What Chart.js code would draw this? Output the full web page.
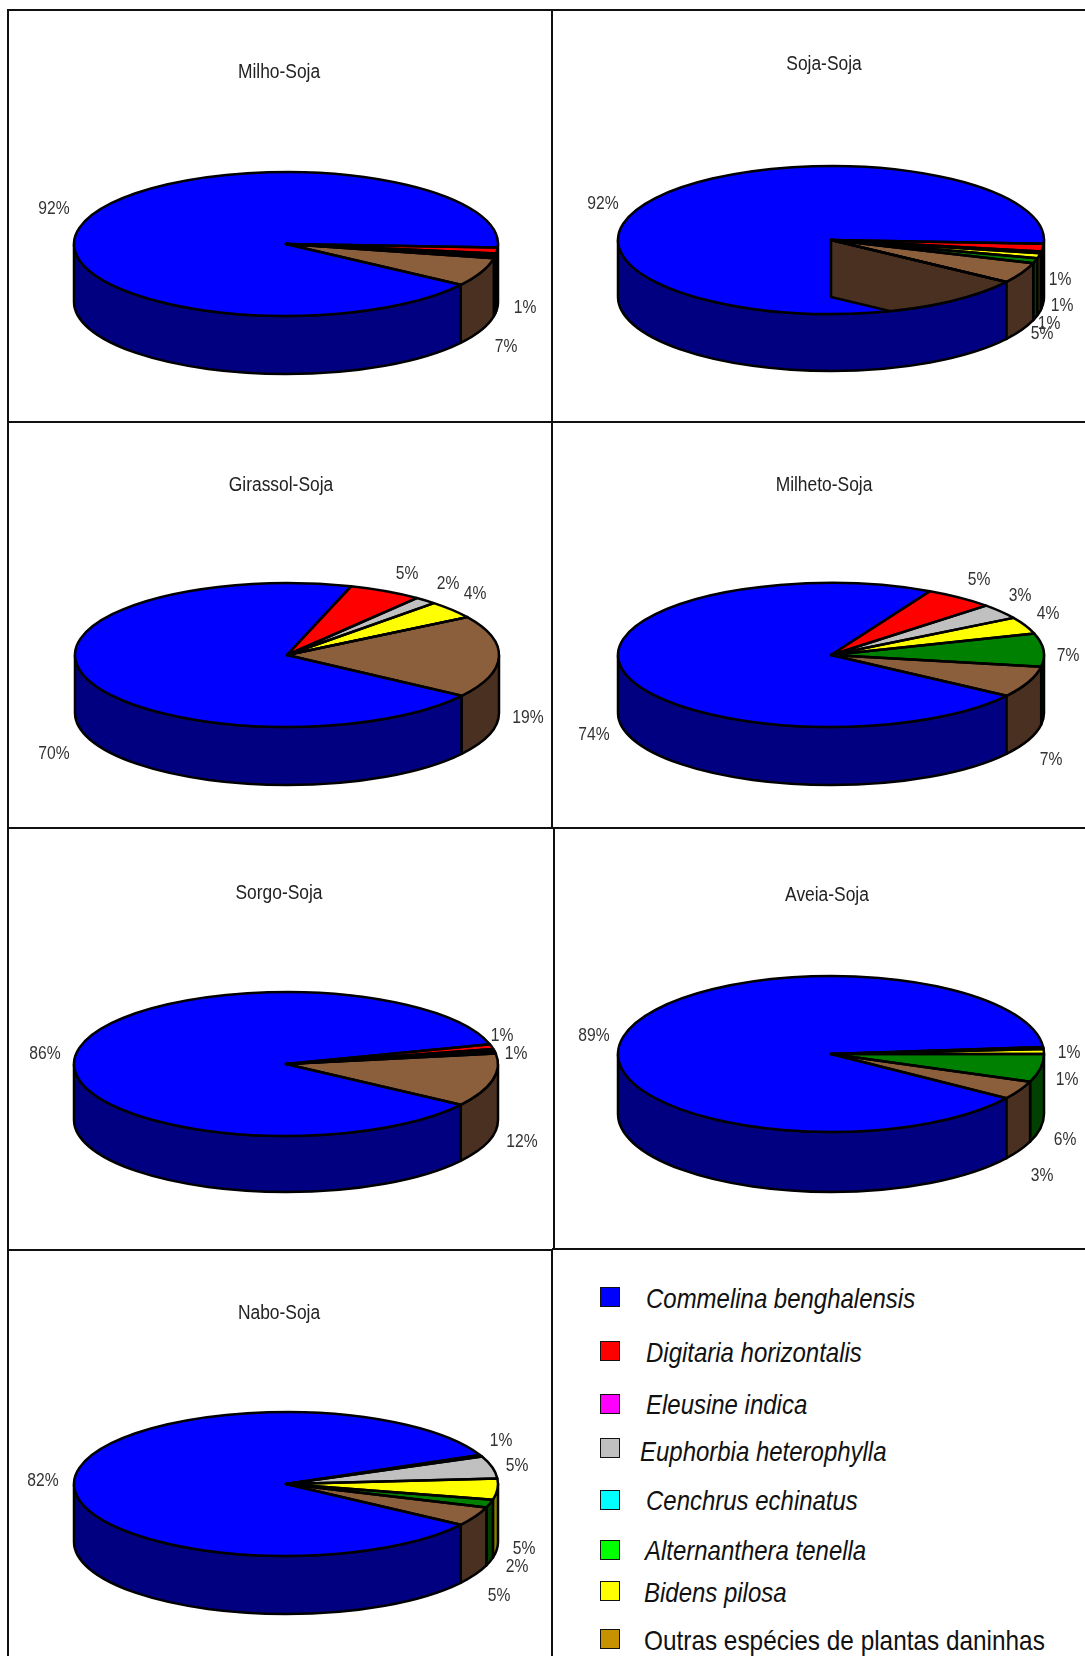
<!DOCTYPE html>
<html lang="pt">
<head>
<meta charset="utf-8">
<title>Plantas daninhas por sucessão</title>
<script src="https://cdn.jsdelivr.net/npm/chart.js@4"></script>
<style>
  html, body { margin: 0; padding: 0; background: #fff; }
  body { position: relative; width: 1085px; height: 1656px; overflow: hidden; font-family: "Liberation Sans", sans-serif; }
  .linha { position: absolute; background: #111; }
  .painel { position: absolute; }
  .quadrado { position: absolute; width: 18px; height: 18px; border: 1.5px solid #111; }
  .especie { position: absolute; font-size: 28px; line-height: 32px; color: #111; white-space: nowrap; font-style: italic; transform: scaleX(0.856); transform-origin: left center; }
  .especie.normal { font-style: normal; transform: scaleX(0.87); }
</style>
</head>
<body>
<script>
// Fatias na ordem em que aparecem nas pizzas
const fatias = ['Commelina benghalensis', 'Digitaria horizontalis', 'Euphorbia heterophylla', 'Bidens pilosa', 'Alternanthera tenella', 'Outras espécies de plantas daninhas'];
const corTopo = ['#0000FF', '#FF0000', '#C0C0C0', '#FFFF00', '#008000', '#8B5E3C'];
const corLado = ['#000080', '#800000', '#606060', '#808000', '#004000', '#4A3020'];

const titulos = ['Milho-Soja', 'Soja-Soja', 'Girassol-Soja', 'Milheto-Soja', 'Sorgo-Soja', 'Aveia-Soja', 'Nabo-Soja'];

// Valores estimados da figura (%)
const milhoSoja = [91.2, 1.3, 0.35, 0.35, 0.4, 6.4];
const sojaSoja = [91.2, 1.7, 0.4, 1.1, 1.1, 4.5];
const girassolSoja = [70.3, 5.6, 1.7, 4, 0, 18.4];
const milhetoSoja = [73.1, 5.3, 3.4, 3.8, 7.4, 7];
const sorgoSoja = [86, 1.1, 0.35, 0.35, 0.3, 11.9];
const aveiaSoja = [89, 0.2, 0.2, 1, 5.8, 3.8];
const naboSoja = [83.8, 0.4, 5, 4.7, 1.8, 4.3];
const valores = [milhoSoja, sojaSoja, girassolSoja, milhetoSoja, sorgoSoja, aveiaSoja, naboSoja];

const rotulos = [
  ['92%', '1%', '7%'],
  ['92%', '1%', '1%', '1%', '5%'],
  ['5%', '2%', '4%', '19%', '70%'],
  ['5%', '3%', '4%', '7%', '7%', '74%'],
  ['86%', '1%', '1%', '12%'],
  ['89%', '1%', '1%', '6%', '3%'],
  ['82%', '1%', '5%', '5%', '2%', '5%']
];

// Posicoes na pagina
const posRotulos = [
  [[54, 209], [525, 308], [506, 347]],
  [[603, 204], [1060, 280], [1062, 306], [1049, 324], [1042, 334]],
  [[407, 574], [448, 584], [475, 594], [528, 718], [54, 754]],
  [[979, 580], [1020, 596], [1048, 614], [1068, 656], [1051, 760], [594, 735]],
  [[45, 1054], [502, 1036], [516, 1054], [522, 1142]],
  [[594, 1036], [1069, 1053], [1067, 1080], [1065, 1140], [1042, 1176]],
  [[43, 1481], [501, 1441], [517, 1466], [524, 1549], [517, 1567], [499, 1596]]
];
const posTitulos = [[279, 72], [824, 64], [281, 485], [824, 485], [279, 893], [827, 895], [279, 1313]];
const caixas = [
  [8, 9, 544, 412], [552, 9, 533, 412],
  [8, 421, 544, 407], [552, 421, 533, 407],
  [8, 828, 544, 422], [553, 829, 532, 420],
  [8, 1250, 544, 406]
];
const centros = [[286, 244], [831, 240], [287, 655], [831, 655], [286, 1064], [831, 1054], [286, 1484]];
const raiosX = [212, 213, 212, 213, 212, 213, 212];
const raiosY = [72, 74, 72, 72, 72, 78, 72];
const alturas = [58, 57, 58, 58, 56, 60, 58];

// Legenda
const especies = ['Commelina benghalensis', 'Digitaria horizontalis', 'Eleusine indica', 'Euphorbia heterophylla', 'Cenchrus echinatus', 'Alternanthera tenella', 'Bidens pilosa', 'Outras espécies de plantas daninhas'];
const corLegenda = ['#0000FF', '#FF0000', '#FF00FF', '#C0C0C0', '#00FFFF', '#00FF00', '#FFFF00', '#C69200'];
const legendaY = [1297, 1351, 1404, 1448, 1500, 1550, 1591, 1639];
const legendaTextoX = [646, 646, 646, 640, 646, 645, 644, 644];
const legendaTextoY = [1299, 1353, 1405, 1452, 1501, 1551, 1593, 1641];

const ESTREITO = 0.87;

// Desenha a lateral da pizza antes das fatias e achata o topo
const pizza3d = {
  id: 'pizza3d',
  beforeDatasetsDraw(chart, args, opts) {
    const ctx = chart.ctx;
    const arcos = chart.getDatasetMeta(0).data;
    const a0 = arcos[0];
    const R = a0.outerRadius;
    const k = opts.ry / R;

    ctx.save();
    ctx.lineWidth = 2.5;
    ctx.strokeStyle = '#000';
    ctx.lineJoin = 'round';
    arcos.forEach((arc, i) => {
      [0, -2 * Math.PI].forEach(volta => {
        const ini = Math.max(arc.startAngle + volta, 0);
        const fim = Math.min(arc.endAngle + volta, Math.PI);
        if (fim <= ini) return;
        ctx.beginPath();
        ctx.ellipse(opts.cx, opts.cy, R, opts.ry, 0, ini, fim);
        ctx.ellipse(opts.cx, opts.cy + opts.alt, R, opts.ry, 0, fim, ini, true);
        ctx.closePath();
        ctx.fillStyle = corLado[i];
        ctx.fill();
        ctx.stroke();
      });
    });
    ctx.restore();

    ctx.save();
    ctx.translate(opts.cx, opts.cy);
    ctx.scale(1, k);
    ctx.translate(-a0.x, -a0.y);
  },
  afterDatasetsDraw(chart, args, opts) {
    const ctx = chart.ctx;
    ctx.restore();
    const arcos = chart.getDatasetMeta(0).data;
    const R = arcos[0].outerRadius;

    ctx.save();
    ctx.lineWidth = 2.5;
    ctx.strokeStyle = '#000';
    ctx.lineJoin = 'round';

    // Soja-Soja: parede interna da fatia marrom aparece por cima do azul
    if (opts.paredeInterna) {
      const ang = arcos[0].startAngle;
      const px = opts.cx + R * Math.cos(ang);
      const py = opts.cy + opts.ry * Math.sin(ang);
      ctx.save();
      ctx.beginPath();
      ctx.ellipse(opts.cx, opts.cy, R, opts.ry, 0, 0, 2 * Math.PI);
      ctx.clip();
      ctx.beginPath();
      ctx.moveTo(opts.cx, opts.cy);
      ctx.lineTo(px, py);
      ctx.lineTo(px, py + opts.alt);
      ctx.lineTo(opts.cx, opts.cy + opts.alt);
      ctx.closePath();
      ctx.fillStyle = corLado[5];
      ctx.fill();
      ctx.stroke();
      ctx.restore();
    }

    arcos.forEach(arc => {
      ctx.beginPath();
      ctx.moveTo(opts.cx, opts.cy);
      ctx.ellipse(opts.cx, opts.cy, R, opts.ry, 0, arc.startAngle, arc.endAngle);
      ctx.closePath();
      ctx.stroke();
    });
    ctx.restore();
  },
  afterDraw(chart, args, opts) {
    const ctx = chart.ctx;
    const texto = (txt, x, y) => {
      ctx.save();
      ctx.translate(x, y);
      ctx.scale(ESTREITO, 1);
      ctx.fillText(txt, 0, 0);
      ctx.restore();
    };
    ctx.save();
    ctx.textAlign = 'center';
    ctx.textBaseline = 'middle';
    ctx.fillStyle = '#222';
    ctx.font = '20px "Liberation Sans", sans-serif';
    texto(opts.titulo, opts.titulo_x, opts.titulo_y);
    ctx.fillStyle = '#333';
    ctx.font = '18px "Liberation Sans", sans-serif';
    opts.rotulos.forEach((txt, i) => {
      texto(txt, opts.pos[i][0], opts.pos[i][1]);
    });
    ctx.restore();
  }
};

function criarPainel(i) {
  const [x, y, w, h] = caixas[i];

  const div = document.createElement('div');
  div.className = 'painel';
  div.style.cssText = `left:${x}px;top:${y}px;width:${w}px;height:${h}px`;
  const canvas = document.createElement('canvas');
  canvas.width = w;
  canvas.height = h;
  canvas.style.display = 'block';
  div.appendChild(canvas);
  document.body.appendChild(div);

  new Chart(canvas.getContext('2d'), {
    type: 'pie',
    data: {
      labels: fatias,
      datasets: [{
        data: valores[i],
        backgroundColor: corTopo,
        borderWidth: 0,
        clip: false
      }]
    },
    options: {
      responsive: false,
      animation: false,
      rotation: 124.5,
      radius: raiosX[i],
      events: [],
      plugins: {
        legend: { display: false },
        tooltip: { enabled: false },
        pizza3d: {
          cx: centros[i][0] - x,
          cy: centros[i][1] - y,
          ry: raiosY[i],
          alt: alturas[i],
          paredeInterna: i === 1,
          titulo: titulos[i],
          titulo_x: posTitulos[i][0] - x,
          titulo_y: posTitulos[i][1] - y,
          rotulos: rotulos[i],
          pos: posRotulos[i].map(p => [p[0] - x, p[1] - y])
        }
      }
    },
    plugins: [pizza3d]
  });
}

function linha(x, y, w, h) {
  const el = document.createElement('div');
  el.className = 'linha';
  el.style.cssText = `left:${x}px;top:${y}px;width:${w}px;height:${h}px`;
  document.body.appendChild(el);
}

function criarLegenda() {
  especies.forEach((nome, i) => {
    const q = document.createElement('div');
    q.className = 'quadrado';
    q.style.cssText = `left:600px;top:${legendaY[i] - 10}px;background:${corLegenda[i]}`;
    document.body.appendChild(q);

    const t = document.createElement('div');
    t.className = i === 7 ? 'especie normal' : 'especie';
    t.style.cssText = `left:${legendaTextoX[i]}px;top:${legendaTextoY[i] - 16}px`;
    t.textContent = nome;
    document.body.appendChild(t);
  });
}

for (let i = 0; i < titulos.length; i++) criarPainel(i);

// Bordas da grade
linha(7, 9, 1078, 2);
linha(7, 421, 1078, 2);
linha(7, 827, 1078, 2);
linha(7, 1249, 545, 2);
linha(552, 1248, 533, 2);
linha(7, 9, 2, 1647);
linha(551, 9, 2, 819);
linha(553, 829, 2, 421);
linha(551, 1250, 2, 406);

criarLegenda();
</script>
</body>
</html>
